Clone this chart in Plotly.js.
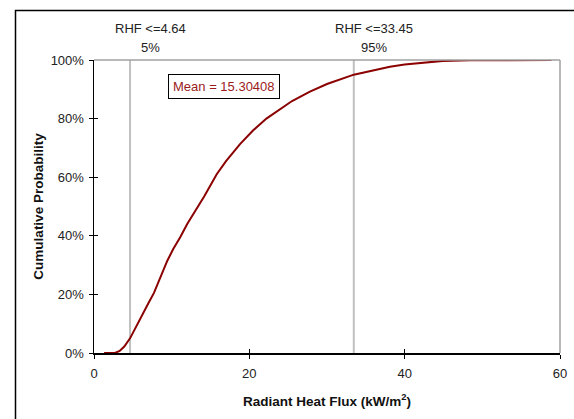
<!DOCTYPE html>
<html>
<head>
<meta charset="utf-8">
<script src="https://cdn.plot.ly/plotly-3.0.1.min.js"></script>
<style>html,body{margin:0;padding:0;background:#fff;}#chart{width:574px;height:419px;}</style>
</head>
<body>
<div id="chart"></div>
<script>
// Radiant heat flux (kW/m2) and cumulative probability (%)
const rhf = [1.3, 2.7, 3.3, 3.9, 4.64, 5.3, 5.9, 6.44, 7.0, 7.72, 8.5, 9.44, 10.2, 11.1, 12.0, 12.87, 14.2, 15.8, 17.0, 18.8, 20.5, 22.2, 23.5, 25.5, 27.8, 30.0, 33.45, 36.0, 38.1, 40.0, 42.4, 44.9, 48.4, 52.0, 58.9];
const cumProb = [0, 0, 0.7, 2.2, 5, 8.5, 11.5, 14, 17, 20.5, 25.5, 31.5, 35.5, 39.5, 44, 47.8, 53.5, 61, 65.5, 71.3, 76, 80, 82.4, 86, 89.2, 91.8, 95, 96.5, 97.7, 98.5, 99.2, 99.7, 99.9, 100, 100];
const pctX = [4.64, 33.45];
const pctLabels = ["RHF <=4.64", "RHF <=33.45"];
const pctValues = ["5%", "95%"];
const meanValue = 15.30408;
const xTicks = [0, 20, 40, 60];
const yTicks = [0, 20, 40, 60, 80, 100];
const yTickText = ["0%", "20%", "40%", "60%", "80%", "100%"];

const font = "Liberation Sans, Arial, sans-serif";
const traces = [];
pctX.forEach(v => {
  traces.push({x: [v, v], y: [0, 100], mode: 'lines', line: {color: '#c0c0c0', width: 2}, hoverinfo: 'skip', showlegend: false});
});
traces.push({x: rhf, y: cumProb, mode: 'lines', line: {color: '#8b0000', width: 2}, showlegend: false});
traces.push({x: [0], y: [0], xaxis: 'x2', yaxis: 'y2', mode: 'markers', marker: {opacity: 0}, showlegend: false, hoverinfo: 'skip'});

const annotations = [];
pctX.forEach((v, i) => {
  annotations.push({x: v, xref: 'x', y: 1, yref: 'paper', yanchor: 'bottom', yshift: 22, xshift: 20, text: pctLabels[i], showarrow: false, font: {family: font, size: 13, color: '#222'}});
  annotations.push({x: v, xref: 'x', y: 1, yref: 'paper', yanchor: 'bottom', yshift: 3, xshift: 20, text: pctValues[i], showarrow: false, font: {family: font, size: 13, color: '#222'}});
});
annotations.push({x: 16.7, xref: 'x', y: 91, yref: 'y', text: 'Mean = ' + meanValue.toFixed(5), showarrow: false, bgcolor: '#fff', bordercolor: '#000', borderwidth: 1, borderpad: 4, font: {family: font, size: 13, color: '#9b1b1b'}});

const layout = {
  width: 574, height: 419,
  margin: {l: 94, r: 14, t: 60, b: 66},
  paper_bgcolor: '#fff', plot_bgcolor: '#fff',
  font: {family: font, size: 13, color: '#222'},
  xaxis: {range: [0, 60], tickvals: xTicks, showgrid: false, zeroline: false, showline: true, linecolor: '#000', linewidth: 1.5, ticks: 'outside', ticklen: 4, tickcolor: '#000', ticklabelstandoff: 4, tickfont: {family: font, size: 13, color: '#222'},
    title: {text: '<b>Radiant Heat Flux (kW/m<sup>2</sup>)</b>', font: {family: font, size: 13.5, color: '#111'}, standoff: 16}},
  yaxis: {range: [0, 100], tickvals: yTicks, ticktext: yTickText, showgrid: false, zeroline: false, showline: true, linecolor: '#000', linewidth: 1.5, ticks: 'outside', ticklen: 4, tickcolor: '#000', ticklabelstandoff: 2, tickfont: {family: font, size: 13, color: '#222'},
    title: {text: '<b>Cumulative Probability</b>', font: {family: font, size: 13.5, color: '#111'}, standoff: 4}},
  xaxis2: {overlaying: 'x', range: [0, 60], tickvals: xTicks, showticklabels: false, ticks: 'inside', ticklen: 4, tickcolor: '#000', showgrid: false, zeroline: false, showline: false},
  yaxis2: {overlaying: 'y', range: [0, 100], tickvals: yTicks, showticklabels: false, ticks: 'inside', ticklen: 4, tickcolor: '#000', showgrid: false, zeroline: false, showline: false},
  shapes: [
    {type: 'line', xref: 'paper', yref: 'paper', x0: 0, x1: 1, y0: 1, y1: 1, line: {color: '#a0a0a0', width: 1.5}},
    {type: 'line', xref: 'paper', yref: 'paper', x0: 1, x1: 1, y0: 0, y1: 1, line: {color: '#a0a0a0', width: 1.5}},
    {type: 'rect', xref: 'paper', yref: 'paper', x0: (15.5 - 94) / 466, x1: (600 - 94) / 466, y0: (353 - 440) / 293, y1: (353 - 10.5) / 293, line: {color: '#000', width: 1.5}, layer: 'below'}
  ],
  annotations: annotations
};
Plotly.newPlot('chart', traces, layout, {staticPlot: true, displayModeBar: false});
</script>
</body>
</html>
